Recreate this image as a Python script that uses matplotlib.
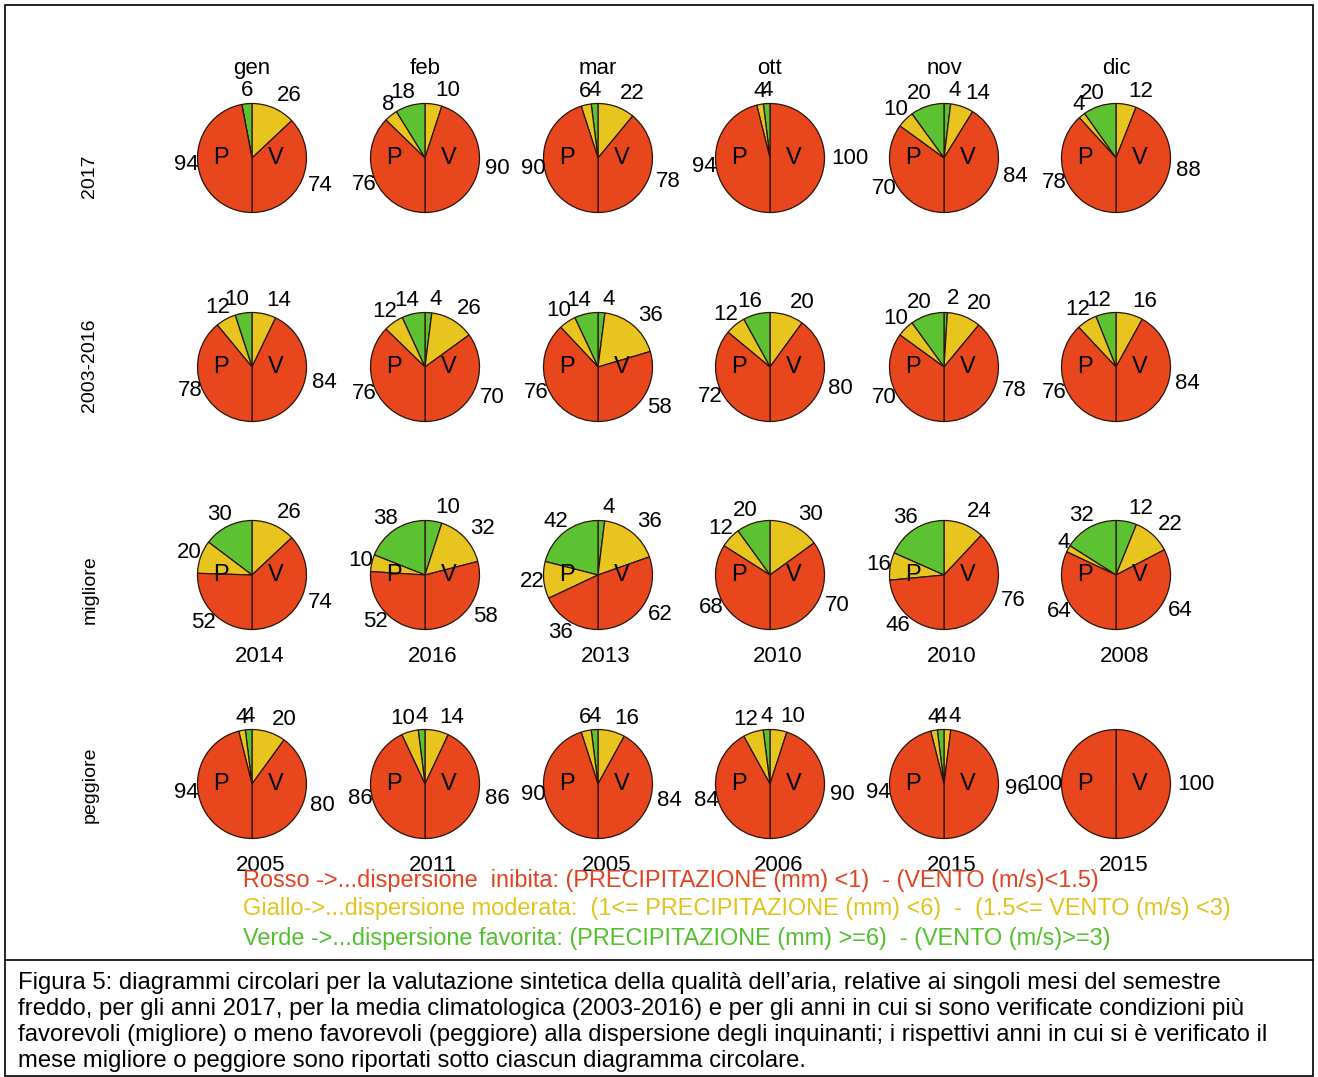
import numpy as np
import matplotlib
matplotlib.use("Agg")
import matplotlib.pyplot as plt
from matplotlib.patches import Rectangle
from matplotlib.lines import Line2D

plt.rcParams['font.family'] = ['Liberation Sans', 'DejaVu Sans']

# ---------------------------------------------------------------- data
months = ["gen", "feb", "mar", "ott", "nov", "dic"]
row_labels = ["2017", "2003-2016", "migliore", "peggiore"]
best_years = ["2014", "2016", "2013", "2010", "2010", "2008"]
worst_years = ["2005", "2011", "2005", "2006", "2015", "2015"]

# percentages per month, ordered (verde, giallo, rosso)
# P = precipitazione (left half), V = vento (right half)
p_2017 = [[6, 0, 94], [18, 8, 76], [4, 6, 90], [4, 4, 94], [20, 10, 70], [20, 4, 78]]
v_2017 = [[0, 26, 74], [0, 10, 90], [0, 22, 78], [0, 0, 100], [4, 14, 84], [0, 12, 88]]

p_clim = [[10, 12, 78], [14, 12, 76], [14, 10, 76], [16, 12, 72], [20, 10, 70], [12, 12, 76]]
v_clim = [[0, 14, 84], [4, 26, 70], [4, 36, 58], [0, 20, 80], [2, 20, 78], [0, 16, 84]]

p_best = [[30, 20, 52], [38, 10, 52], [42, 22, 36], [20, 12, 68], [36, 16, 46], [32, 4, 64]]
v_best = [[0, 26, 74], [10, 32, 58], [4, 36, 62], [0, 30, 70], [0, 24, 76], [12, 22, 64]]

p_worst = [[4, 4, 94], [4, 10, 86], [4, 6, 90], [4, 12, 84], [4, 4, 94], [0, 0, 100]]
v_worst = [[0, 20, 80], [0, 14, 86], [0, 16, 84], [0, 10, 90], [0, 4, 96], [0, 0, 100]]

legend_lines = [
    "Rosso ->...dispersione  inibita: (PRECIPITAZIONE (mm) <1)  - (VENTO (m/s)<1.5)",
    "Giallo->...dispersione moderata:  (1<= PRECIPITAZIONE (mm) <6)  -  (1.5<= VENTO (m/s) <3)",
    "Verde ->...dispersione favorita: (PRECIPITAZIONE (mm) >=6)  - (VENTO (m/s)>=3)",
]
caption_lines = [
    "Figura 5: diagrammi circolari per la valutazione sintetica della qualità dell\u2019aria, relative ai singoli mesi del semestre",
    "freddo, per gli anni 2017, per la media climatologica (2003-2016) e per gli anni in cui si sono verificate condizioni più",
    "favorevoli (migliore) o meno favorevoli (peggiore) alla dispersione degli inquinanti; i rispettivi anni in cui si è verificato il",
    "mese migliore o peggiore sono riportati sotto ciascun diagramma circolare.",
]

# ---------------------------------------------------------------- style
GREEN = "#5cc232"
YELLOW = "#e8c41e"
RED = "#e8461c"
EDGE = "#2a1408"
LEGEND_COLORS = ["#e3421f", "#e2c21c", "#52c02c"]

FIG_W, FIG_H = 1318, 1077
R = 54.5                      # pie radius in pixels
L = 2.0                       # half-extent of each pie axes (radius units)
col_x = [252, 425, 598, 770, 944, 1116]
row_y = [158, 367, 575, 784]
row_label_y = [176, 365, 590, 785]
FS = 16

fig = plt.figure(figsize=(FIG_W / 100, FIG_H / 100), dpi=100)
fig.patch.set_facecolor("white")


def pie_axes(cx, cy):
    half = L * R
    ax = fig.add_axes([(cx - half) / FIG_W, 1 - (cy + half) / FIG_H,
                       2 * half / FIG_W, 2 * half / FIG_H])
    return ax


def draw_half(ax, vals, counterclock):
    vals = np.asarray(vals, dtype=float)
    frac = vals / vals.sum() * 0.5
    wedges, _ = ax.pie(frac, colors=[GREEN, YELLOW, RED], startangle=90,
                       counterclock=counterclock, normalize=False,
                       wedgeprops=dict(edgecolor=EDGE, linewidth=0.9))
    for w, v in zip(wedges, vals):
        if v == 0:
            continue
        mid = np.deg2rad((w.theta1 + w.theta2) / 2)
        c, s = np.cos(mid), np.sin(mid)
        if c < 0:
            x, ha = 1.1 * c + 0.12, "right"
        else:
            x, ha = 1.1 * c + 0.02, "left"
        ax.text(x, 1.25 * s, f"{v:g}", ha=ha, va="center", fontsize=FS,
                clip_on=False)


rows = [(p_2017, v_2017, None), (p_clim, v_clim, None),
        (p_best, v_best, best_years), (p_worst, v_worst, worst_years)]

for r, (p_row, v_row, years) in enumerate(rows):
    for c in range(len(months)):
        ax = pie_axes(col_x[c], row_y[r])
        draw_half(ax, v_row[c], counterclock=False)
        draw_half(ax, p_row[c], counterclock=True)
        ax.text(-0.57, 0.0, "P", ha="center", va="center", fontsize=17)
        ax.text(0.44, 0.0, "V", ha="center", va="center", fontsize=17)
        if r == 0:
            ax.text(0, 1.65, months[c], ha="center", va="center", fontsize=FS)
        if years is not None:
            ax.text(0.15, -1.5, years[c], ha="center", va="center", fontsize=FS)
        ax.set_xlim(-L, L)
        ax.set_ylim(-L, L)
        ax.axis("off")

for lab, y in zip(row_labels, row_label_y):
    fig.text(90 / FIG_W, 1 - y / FIG_H, lab, rotation=90, ha="center",
             va="center", fontsize=14)

for i, (line, col) in enumerate(zip(legend_lines, LEGEND_COLORS)):
    fig.text(243 / FIG_W, 1 - (880 + 29 * i) / FIG_H, line, color=col,
             ha="left", va="center", fontsize=16.9)

for i, line in enumerate(caption_lines):
    fig.text(18 / FIG_W, 1 - (983 + 26 * i) / FIG_H, line, color="black",
             ha="left", va="center", fontsize=17.2)

# frame around the chart and the caption
fig.add_artist(Rectangle((5 / FIG_W, 1 - 1076 / FIG_H), 1308 / FIG_W, 1071 / FIG_H,
                         transform=fig.transFigure, fill=False, ec="black", lw=1.2))
fig.add_artist(Line2D([5 / FIG_W, 1313 / FIG_W], [1 - 960 / FIG_H, 1 - 960 / FIG_H],
                      transform=fig.transFigure, color="black", lw=1.2))

fig.savefig("out.png", dpi=100)
